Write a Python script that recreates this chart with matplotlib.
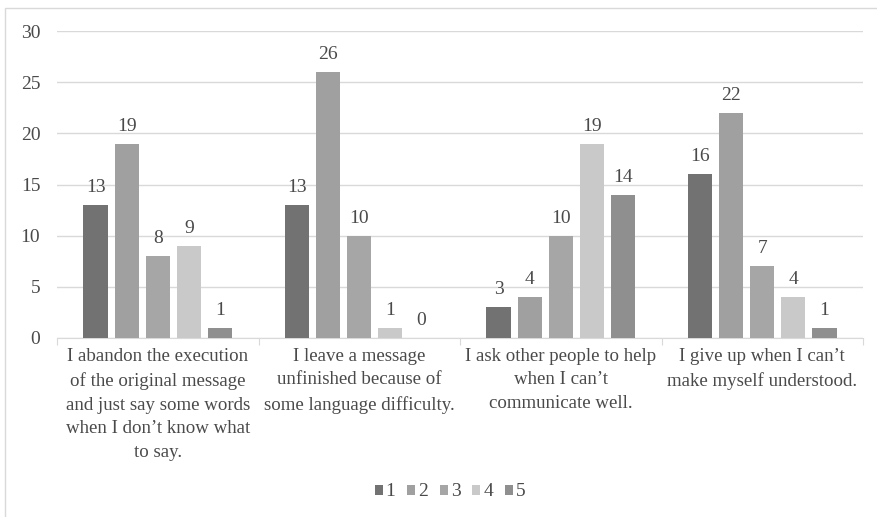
import matplotlib.pyplot as plt
import numpy as np
from matplotlib.patches import Rectangle

plt.rcParams['font.family'] = ['Liberation Serif', 'DejaVu Serif']

categories = [
    "I abandon the execution\nof the original message\nand just say some words\nwhen I don\u2019t know what\nto say.",
    "I leave a message\nunfinished because of\nsome language difficulty.",
    "I ask other people to help\nwhen I can\u2019t\ncommunicate well.",
    "I give up when I can\u2019t\nmake myself understood.",
]
series_names = ["1", "2", "3", "4", "5"]
s1 = [13, 13, 3, 16]
s2 = [19, 26, 4, 22]
s3 = [8, 10, 10, 7]
s4 = [9, 1, 19, 4]
s5 = [1, 0, 14, 1]
series = [s1, s2, s3, s4, s5]
colors = ["#727272", "#a0a0a0", "#a6a6a6", "#c9c9c9", "#8f8f8f"]
yticks = [0, 5, 10, 15, 20, 25, 30]
text_color = "#4a4a4a"

W, H = 877, 517
fig = plt.figure(figsize=(W / 100, H / 100), dpi=100)
ax = fig.add_axes([57 / W, 1 - 338 / H, (863 - 57) / W, (338 - 31) / H])

# outer chart frame (runs off the right and bottom edges)
fig.patches.append(Rectangle((5 / W, -0.05), 1.0, (517 - 8) / H + 0.05,
                             transform=fig.transFigure, fill=False,
                             edgecolor="#d9d9d9", linewidth=1))

n = len(series)
bar_w = 0.121
step = 0.154
x = np.arange(len(categories))
for i, (vals, c, name) in enumerate(zip(series, colors, series_names)):
    pos = x + (i - (n - 1) / 2) * step
    bars = ax.bar(pos, vals, width=bar_w, color=c, label=name, zorder=3)
    for b, v in zip(bars, vals):
        ax.annotate(str(v), (b.get_x() + b.get_width() / 2, v),
                    xytext=(0, 6.5), textcoords="offset points",
                    ha="center", va="bottom", fontsize=14, color=text_color)

ax.set_xlim(-0.5, len(categories) - 0.5)
ax.set_ylim(0, 30)
ax.set_yticks(yticks)
ax.yaxis.grid(True, color="#d9d9d9", linewidth=1, zorder=0)
ax.set_axisbelow(True)
for s in ["top", "right", "left"]:
    ax.spines[s].set_visible(False)
ax.spines["bottom"].set_color("#d9d9d9")
ax.tick_params(axis="y", length=0, labelsize=14, labelcolor=text_color, pad=12)

# category boundary ticks and labels
ax.set_xticks(np.arange(-0.5, len(categories), 1.0))
ax.set_xticklabels([])
ax.tick_params(axis="x", direction="out", length=5, color="#d9d9d9")
for xi, lab in zip(x, categories):
    ax.annotate(lab, (xi, 0), xytext=(0, -7), textcoords="offset points",
                ha="center", va="top", fontsize=13.6, color=text_color,
                linespacing=1.52, annotation_clip=False)

leg = fig.legend(loc="center", bbox_to_anchor=(450 / W, 1 - 492 / H), ncol=5,
                 frameon=False, fontsize=14, handlelength=0.42,
                 handleheight=0.42, handletextpad=0.15, columnspacing=0.6,
                 labelcolor=text_color)

fig.savefig("out.png", dpi=100, facecolor="white")
